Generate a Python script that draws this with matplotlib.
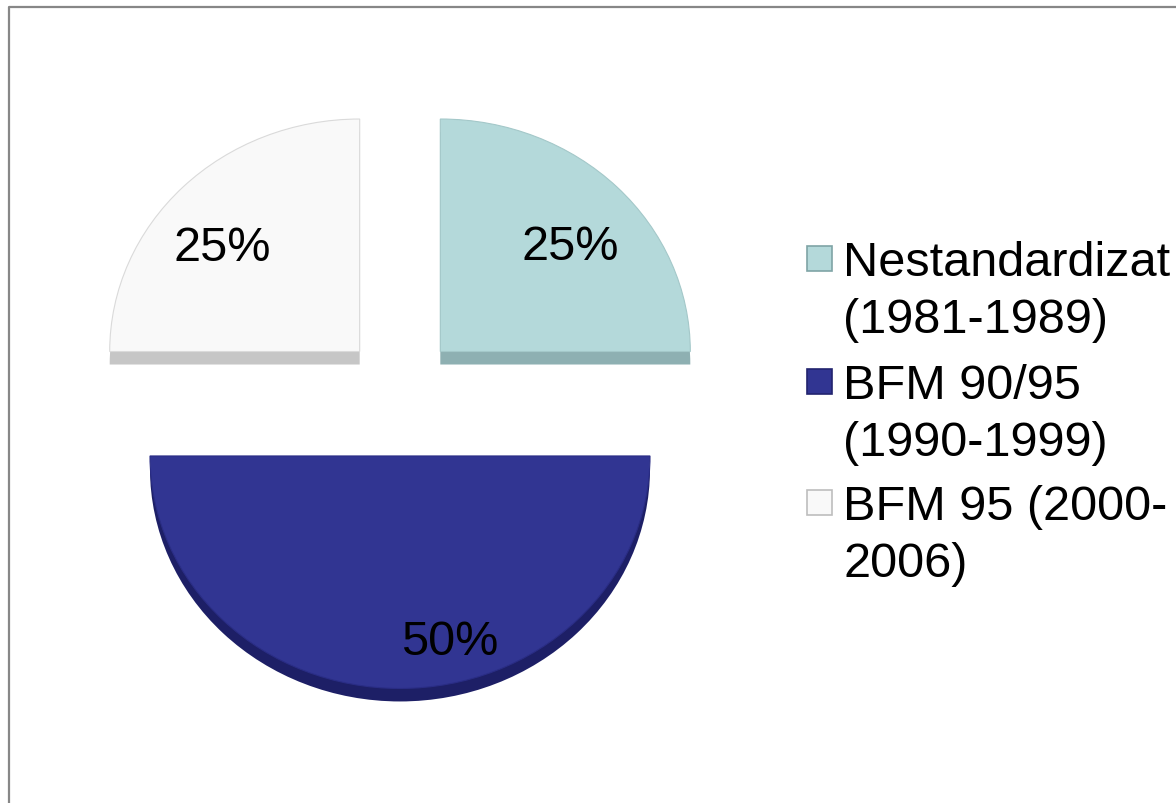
import math
import matplotlib
matplotlib.use("Agg")
import matplotlib.pyplot as plt
from matplotlib.patches import Rectangle
from matplotlib.lines import Line2D

plt.rcParams['font.family'] = ['Liberation Sans', 'DejaVu Sans']

# data
labels = ["Nestandardizat\n(1981-1989)", "BFM 90/95\n(1990-1999)", "BFM 95 (2000-\n2006)"]
shares = [25, 50, 25]

top_colors = ["#b4d9da", "#313592", "#f9f9f9"]
side_colors = ["#8eb0b2", "#1d1f66", "#c6c6c6"]
edge_colors = ["#a4c8c9", "#2a2d85", "#dadada"]
legend_edges = ["#7fa4a6", "#22246e", "#bdbdbd"]
explode = [57, 72, 57]
# where each percentage sits relative to its wedge tip: (distance, angle in degrees)
label_pos = [(172, 41), (206, -76), (177, 141)]

W, H = 1176, 804
SQ = 0.93     # vertical squash of the tilted pie
DEPTH = 13    # thickness of the slices, px

fig = plt.figure(figsize=(W / 100, H / 100), dpi=100)
ax = fig.add_axes([0, 0, 1, 1])


def py(y):
    return (H - y) / SQ


cx, cy = 400, py(390)
R = 250

# side walls: the same pie pushed down, drawn underneath
ax.pie(shares, startangle=90, counterclock=False, radius=R,
       center=(cx, cy - DEPTH / SQ), frame=True, explode=explode,
       colors=side_colors, wedgeprops=dict(linewidth=0))

wedges, texts, autotexts = ax.pie(shares, startangle=90, counterclock=False, radius=R,
                                  center=(cx, cy), frame=True, explode=explode,
                                  colors=top_colors, autopct="%1.0f%%",
                                  textprops=dict(fontsize=35, color="black"))
for w, ec in zip(wedges, edge_colors):
    w.set_edgecolor(ec)
    w.set_linewidth(0.8)
for w, t, (d, a) in zip(wedges, autotexts, label_pos):
    x0, y0 = w.center
    t.set_position((x0 + d * math.cos(math.radians(a)), y0 + d * math.sin(math.radians(a))))
    t.set_ha("center")
    t.set_va("center")

ax.set_xlim(0, W)
ax.set_ylim(0, H / SQ)
ax.set_aspect("auto")
ax.set_axis_off()

# legend: square next to the first line of each entry
leg_top = [241, 364, 485]
for lab, fc, ec, yt in zip(labels, top_colors, legend_edges, leg_top):
    fig.patches.append(Rectangle((807 / W, 1 - (yt + 31) / H), 25 / W, 25 / H,
                                 transform=fig.transFigure, facecolor=fc,
                                 edgecolor=ec, linewidth=1.2))
    fig.text(843 / W, 1 - yt / H, lab, fontsize=35, va="top", ha="left",
             linespacing=1.33)

# chart area border (left and top)
fig.lines.append(Line2D([9 / W, 9 / W, 1], [0, 1 - 8 / H, 1 - 8 / H],
                        transform=fig.transFigure, color="#878787", linewidth=1.6))

fig.savefig("out.png", dpi=100)
